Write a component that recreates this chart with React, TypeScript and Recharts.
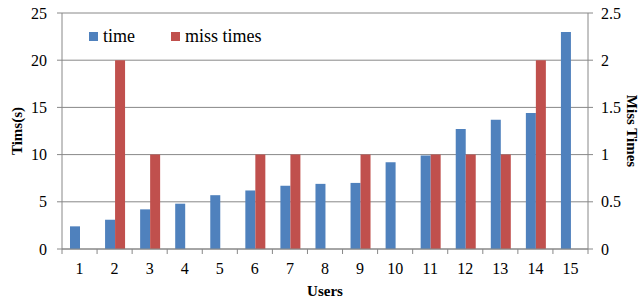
import {
  BarChart,
  Bar,
  XAxis,
  YAxis,
  CartesianGrid,
  Legend,
} from "recharts";

const users = ["1", "2", "3", "4", "5", "6", "7", "8", "9", "10", "11", "12", "13", "14", "15"];
const timeValues = [2.4, 3.1, 4.2, 4.8, 5.7, 6.2, 6.7, 6.9, 7.0, 9.2, 9.9, 12.7, 13.7, 14.4, 23.0];
const missValues = [0, 2, 1, 0, 0, 1, 1, 0, 1, 0, 1, 1, 1, 2, 0];
const timeTicks = [0, 5, 10, 15, 20, 25];
const missTicks = [0, 0.5, 1, 1.5, 2, 2.5];
const seriesNames = ["time", "miss times"];

const data = users.map((u, i) => ({
  user: u,
  time: timeValues[i],
  "miss times": missValues[i],
}));

const W = 639;
const H = 301;
const PLOT_LEFT = 62;
const PLOT_RIGHT = 588;
const PLOT_TOP = 13;
const PLOT_BOTTOM = 249;
const BAND = (PLOT_RIGHT - PLOT_LEFT) / users.length;
const FONT = "Liberation Serif, Times New Roman, serif";
const GREY = "#888888";
const BLUE = "#4F81BD";
const RED = "#C0504D";

const XTick = (props: any) => {
  const { x, y, payload, index } = props;
  const axisY = y - 5;
  const left = x - BAND / 2;
  const right = x + BAND / 2;
  return (
    <g>
      <line x1={left} y1={axisY} x2={left} y2={axisY + 5} stroke={GREY} />
      {index === users.length - 1 && (
        <line x1={right} y1={axisY} x2={right} y2={axisY + 5} stroke={GREY} />
      )}
      <text x={x} y={y + 20} textAnchor="middle" fontSize={16} fontFamily={FONT} fill="#000">
        {payload.value}
      </text>
    </g>
  );
};

// fixed order, same as the reference legend
const LegendContent = () => {
  const colors = [BLUE, RED];
  return (
    <div style={{ display: "flex", alignItems: "center", fontFamily: FONT, fontSize: 18, color: "#000" }}>
      {seriesNames.map((name, i) => (
        <div key={name} style={{ display: "flex", alignItems: "center", marginRight: i === 0 ? 36 : 0 }}>
          <span style={{ width: 9, height: 9, background: colors[i], display: "inline-block", marginRight: 5 }} />
          <span>{name}</span>
        </div>
      ))}
    </div>
  );
};

export default function App() {
  return (
    <div style={{ position: "absolute", left: 0, top: 0, width: W, height: H, background: "#fff" }}>
      <BarChart
        width={W}
        height={H}
        data={data}
        margin={{ top: PLOT_TOP, right: 0, bottom: 0, left: 0 }}
        barGap={0}
        barSize={10}
      >
        <CartesianGrid vertical={false} stroke={GREY} yAxisId="left" />
        <XAxis
          dataKey="user"
          height={H - PLOT_BOTTOM}
          axisLine={{ stroke: GREY }}
          tickLine={false}
          tickSize={5}
          tickMargin={0}
          interval={0}
          tick={<XTick />}
          label={{
            content: () => (
              <text x={325} y={296} textAnchor="middle" fontSize={15} fontWeight="bold" fontFamily={FONT} fill="#000">
                Users
              </text>
            ),
          }}
        />
        <YAxis
          yAxisId="left"
          width={PLOT_LEFT}
          domain={[0, 25]}
          ticks={timeTicks}
          axisLine={{ stroke: GREY }}
          tickLine={{ stroke: GREY }}
          tickSize={5}
          tickMargin={10}
          tick={{ fontSize: 16, fontFamily: FONT, fill: "#000" }}
          label={{
            content: () => (
              <text
                x={22}
                y={131}
                transform="rotate(-90, 22, 131)"
                textAnchor="middle"
                fontSize={15}
                fontWeight="bold"
                fontFamily={FONT}
                fill="#000"
              >
                Tims(s)
              </text>
            ),
          }}
        />
        <YAxis
          yAxisId="right"
          orientation="right"
          width={W - PLOT_RIGHT}
          domain={[0, 2.5]}
          ticks={missTicks}
          axisLine={{ stroke: GREY }}
          tickLine={{ stroke: GREY }}
          tickSize={5}
          tickMargin={8}
          tick={{ fontSize: 16, fontFamily: FONT, fill: "#000" }}
          label={{
            content: () => (
              <text
                x={627}
                y={131}
                transform="rotate(90, 627, 131)"
                textAnchor="middle"
                fontSize={15}
                fontWeight="bold"
                fontFamily={FONT}
                fill="#000"
              >
                Miss Times
              </text>
            ),
          }}
        />
        <Legend
          layout="horizontal"
          align="center"
          verticalAlign="middle"
          wrapperStyle={{ top: 26, left: 89, width: "auto" }}
          content={<LegendContent />}
        />
        <Bar yAxisId="left" dataKey="time" fill={BLUE} isAnimationActive={false} />
        <Bar yAxisId="right" dataKey="miss times" fill={RED} isAnimationActive={false} />
      </BarChart>
    </div>
  );
}
